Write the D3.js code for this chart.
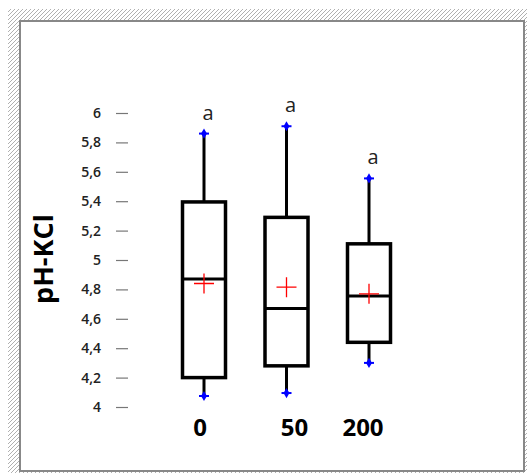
<!DOCTYPE html>
<html>
<head>
<meta charset="utf-8">
<script src="https://cdn.jsdelivr.net/npm/d3@7"></script>
<style>
  body { margin: 0; background: #fff; }
  svg { display: block; }
</style>
</head>
<body>
<div id="app"></div>
<script>
// doses and box statistics
var doses = ['0', '50', '200'];
var whiskerLow = [4.075, 4.095, 4.30];
var q1 = [4.20, 4.28, 4.44];
var medians = [4.87, 4.67, 4.755];
var q3 = [5.395, 5.29, 5.11];
var whiskerHigh = [5.86, 5.91, 5.555];
var means = [4.84, 4.815, 4.77];
var letters = ['a', 'a', 'a'];
var yTicks = [4, 4.2, 4.4, 4.6, 4.8, 5, 5.2, 5.4, 5.6, 5.8, 6];

var width = 528,
    height = 475;

var svg = d3.select('#app')
    .append('svg')
    .attr('width', width)
    .attr('height', height);

// hatched frame
var pat = svg.append('defs')
    .append('pattern')
    .attr('id', 'hatch')
    .attr('patternUnits', 'userSpaceOnUse')
    .attr('width', 4)
    .attr('height', 4);
pat.append('rect').attr('width', 4).attr('height', 4).attr('fill', '#fff');
pat.append('path')
    .attr('d', 'M-1,1 l2,-2 M0,4 l4,-4 M3,5 l2,-2')
    .attr('stroke', '#b0b0b0')
    .attr('stroke-width', 1);

svg.append('rect')
    .attr('x', 8).attr('y', 9)
    .attr('width', 519).attr('height', 464)
    .attr('fill', 'url(#hatch)');

svg.append('rect')
    .attr('x', 20).attr('y', 21)
    .attr('width', 504).attr('height', 450)
    .attr('fill', '#fff')
    .attr('stroke', '#888')
    .attr('stroke-width', 2);

var yScale = d3.scaleLinear().domain([4, 6]).range([407, 113]);
var xScale = d3.scalePoint().domain(doses).range([204, 369]);
var boxW = 43;

// y axis: ticks and labels, no domain line
var yAxis = d3.axisLeft(yScale)
    .tickValues(yTicks)
    .tickSize(12)
    .tickPadding(15)
    .tickFormat(function (d) { return d3.format('~g')(d).replace('.', ','); });

var gy = svg.append('g')
    .attr('transform', 'translate(128, 0)')
    .call(yAxis);
gy.select('.domain').remove();
gy.selectAll('.tick line').attr('stroke', '#777').attr('stroke-width', 1.2);
gy.selectAll('.tick text')
    .attr('fill', '#222')
    .style('font-family', 'Open Sans, sans-serif')
    .style('font-size', '14px')
    .style('font-weight', '600');

svg.append('text')
    .attr('transform', 'translate(53, 259) rotate(-90)')
    .attr('text-anchor', 'middle')
    .style('font-family', 'Open Sans, sans-serif')
    .style('font-size', '27px')
    .style('font-weight', 'bold')
    .text('pH-KCl');

// x labels
svg.selectAll('.xlab')
    .data(doses)
    .enter()
    .append('text')
    .attr('class', 'xlab')
    .attr('x', function (d, i) { return xScale(d) + [-4, 8, -6][i]; })
    .attr('y', 436)
    .attr('text-anchor', 'middle')
    .style('font-family', 'Open Sans, sans-serif')
    .style('font-size', '24px')
    .style('font-weight', 'bold')
    .text(function (d) { return d; });

var boxes = svg.selectAll('.box')
    .data(doses)
    .enter()
    .append('g')
    .attr('class', 'box');

// whiskers
boxes.append('line')
    .attr('x1', function (d) { return xScale(d); })
    .attr('x2', function (d) { return xScale(d); })
    .attr('y1', function (d, i) { return yScale(whiskerHigh[i]); })
    .attr('y2', function (d, i) { return yScale(q3[i]); })
    .attr('stroke', '#000').attr('stroke-width', 3);
boxes.append('line')
    .attr('x1', function (d) { return xScale(d); })
    .attr('x2', function (d) { return xScale(d); })
    .attr('y1', function (d, i) { return yScale(q1[i]); })
    .attr('y2', function (d, i) { return yScale(whiskerLow[i]); })
    .attr('stroke', '#000').attr('stroke-width', 3);

// box
boxes.append('rect')
    .attr('x', function (d) { return xScale(d) - boxW / 2; })
    .attr('y', function (d, i) { return yScale(q3[i]); })
    .attr('width', boxW)
    .attr('height', function (d, i) { return yScale(q1[i]) - yScale(q3[i]); })
    .attr('fill', '#fff')
    .attr('stroke', '#000')
    .attr('stroke-width', 3.5);

// median
boxes.append('line')
    .attr('x1', function (d) { return xScale(d) - boxW / 2; })
    .attr('x2', function (d) { return xScale(d) + boxW / 2; })
    .attr('y1', function (d, i) { return yScale(medians[i]); })
    .attr('y2', function (d, i) { return yScale(medians[i]); })
    .attr('stroke', '#000').attr('stroke-width', 3);

// whisker end markers
[whiskerLow, whiskerHigh].forEach(function (arr) {
    boxes.append('line')
        .attr('x1', function (d) { return xScale(d) - 5; })
        .attr('x2', function (d) { return xScale(d) + 5; })
        .attr('y1', function (d, i) { return yScale(arr[i]); })
        .attr('y2', function (d, i) { return yScale(arr[i]); })
        .attr('stroke', '#0000ff').attr('stroke-width', 2);
    boxes.append('path')
        .attr('transform', function (d, i) {
            return 'translate(' + xScale(d) + ',' + yScale(arr[i]) + ')';
        })
        .attr('d', d3.symbol().type(d3.symbolDiamond).size(30))
        .attr('fill', '#0000ff');
});

// mean marker
boxes.append('path')
    .attr('transform', function (d, i) {
        return 'translate(' + xScale(d) + ',' + yScale(means[i]) + ')';
    })
    .attr('d', 'M-10,0H10M0,-10V10')
    .attr('stroke', '#ff0000')
    .attr('stroke-width', 1.3)
    .attr('fill', 'none');

// group letters
boxes.append('text')
    .attr('x', function (d) { return xScale(d) + 4; })
    .attr('y', function (d, i) { return yScale(whiskerHigh[i]) - 14; })
    .attr('text-anchor', 'middle')
    .style('font-family', 'Open Sans, sans-serif')
    .style('font-size', '20px')
    .attr('fill', '#222')
    .text(function (d, i) { return letters[i]; });
</script>
</body>
</html>
